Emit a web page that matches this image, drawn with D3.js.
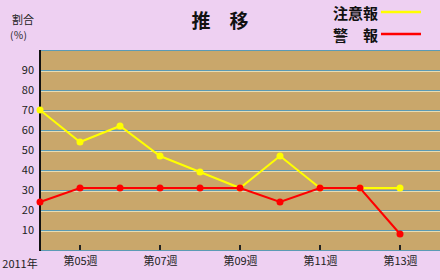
<!DOCTYPE html>
<html lang="ja">
<head>
<meta charset="utf-8">
<title>推移</title>
<script src="https://cdn.jsdelivr.net/npm/d3@7"></script>
<style>
  body { margin: 0; background: #eed0f2; }
  text { font-family: "Noto Sans CJK JP", "DejaVu Sans", sans-serif; }
</style>
</head>
<body>
<div id="container"></div>
<script>
const weeks = [4, 5, 6, 7, 8, 9, 10, 11, 12, 13];
const chuiho = [70, 54, 62, 47, 39, 31, 47, 31, 31, 31];   // 注意報
const keiho  = [24, 31, 31, 31, 31, 31, 24, 31, 31, 8];    // 警報
const yTicks = [10, 20, 30, 40, 50, 60, 70, 80, 90];
const xTicks = [5, 7, 9, 11, 13];

const W = 440, H = 280;
const margin = {top: 50, right: 0, bottom: 30, left: 40};

const svg = d3.select("#container").append("svg")
  .attr("width", W).attr("height", H);

svg.append("rect").attr("width", W).attr("height", H).attr("fill", "#eed0f2");

const x = d3.scaleLinear().domain([4, 14]).range([margin.left, W - margin.right]);
const y = d3.scaleLinear().domain([0, 100]).range([H - margin.bottom, margin.top]);

// plot background
svg.append("rect")
  .attr("x", x(4)).attr("y", y(100))
  .attr("width", x(14) - x(4)).attr("height", y(0) - y(100))
  .attr("fill", "#c9a76b");

// grid lines: blue line with a light line under it
const grid = svg.append("g");
[0].concat(yTicks, [100]).forEach(v => {
  grid.append("line").attr("x1", x(4)).attr("x2", x(14))
    .attr("y1", y(v) + 0.5).attr("y2", y(v) + 0.5)
    .attr("stroke", "#5b9bb5").attr("stroke-width", 1);
  if (v > 0 && v < 100) {
    grid.append("line").attr("x1", x(4)).attr("x2", x(14))
      .attr("y1", y(v) + 1.5).attr("y2", y(v) + 1.5)
      .attr("stroke", "#e6dcb4").attr("stroke-width", 1);
  }
});

// y axis
const yAxis = svg.append("g")
  .attr("transform", `translate(${x(4)},0)`)
  .call(d3.axisLeft(y).tickValues(yTicks).tickSize(0).tickPadding(6));
yAxis.select(".domain").remove();
yAxis.selectAll("text").style("font-size", "11px").attr("fill", "#222");
svg.append("line").attr("x1", x(4)).attr("x2", x(4))
  .attr("y1", y(100)).attr("y2", y(0) + 1)
  .attr("stroke", "#111").attr("stroke-width", 2);

// x axis
const xAxis = svg.append("g")
  .attr("transform", `translate(0,${y(0)})`)
  .call(d3.axisBottom(x).tickValues(xTicks).tickSize(0).tickPadding(7)
    .tickFormat(d => "第" + d3.format("02d")(d) + "週"));
xAxis.select(".domain").remove();
xAxis.selectAll("text").style("font-size", "11px").attr("fill", "#222");
svg.append("g").selectAll("line").data(xTicks).enter().append("line")
  .attr("x1", d => x(d)).attr("x2", d => x(d))
  .attr("y1", y(0) - 5).attr("y2", y(0))
  .attr("stroke", "#222").attr("stroke-width", 2);
svg.append("text").attr("x", 20).attr("y", y(0) + 18)
  .attr("text-anchor", "middle").style("font-size", "11px").attr("fill", "#222")
  .text("2011年");

// series
const series = [
  {name: "注意報", values: chuiho, color: "#ffff00"},
  {name: "警報", values: keiho, color: "#ff0000"}
];
const line = d3.line().x((d, i) => x(weeks[i])).y(d => y(d));
series.forEach(s => {
  svg.append("path").datum(s.values)
    .attr("d", line).attr("fill", "none")
    .attr("stroke", s.color).attr("stroke-width", 2);
  svg.append("g").selectAll("circle").data(s.values).enter().append("circle")
    .attr("cx", (d, i) => x(weeks[i])).attr("cy", d => y(d))
    .attr("r", 3.5).attr("fill", s.color);
});

// titles
svg.append("text").attr("x", 220).attr("y", 28).attr("text-anchor", "middle")
  .style("font-size", "19px").style("font-weight", "bold").attr("fill", "#111")
  .text("推　移");
svg.append("text").attr("x", 12).attr("y", 24)
  .style("font-size", "11px").attr("fill", "#222").text("割合");
svg.append("text").attr("x", 10).attr("y", 39)
  .style("font-size", "10px").attr("fill", "#222").text("(％)");

// legend
const legend = [
  {label: "注意報", color: "#ffff00", yy: 12},
  {label: "警　報", color: "#ff0000", yy: 34}
];
legend.forEach(l => {
  svg.append("text").attr("x", 378).attr("y", l.yy).attr("text-anchor", "end")
    .attr("dominant-baseline", "central")
    .style("font-size", "15px").style("font-weight", "bold").attr("fill", "#111")
    .text(l.label);
  svg.append("line").attr("x1", 381).attr("x2", 421)
    .attr("y1", l.yy).attr("y2", l.yy)
    .attr("stroke", l.color).attr("stroke-width", 2.5);
});
</script>
</body>
</html>
